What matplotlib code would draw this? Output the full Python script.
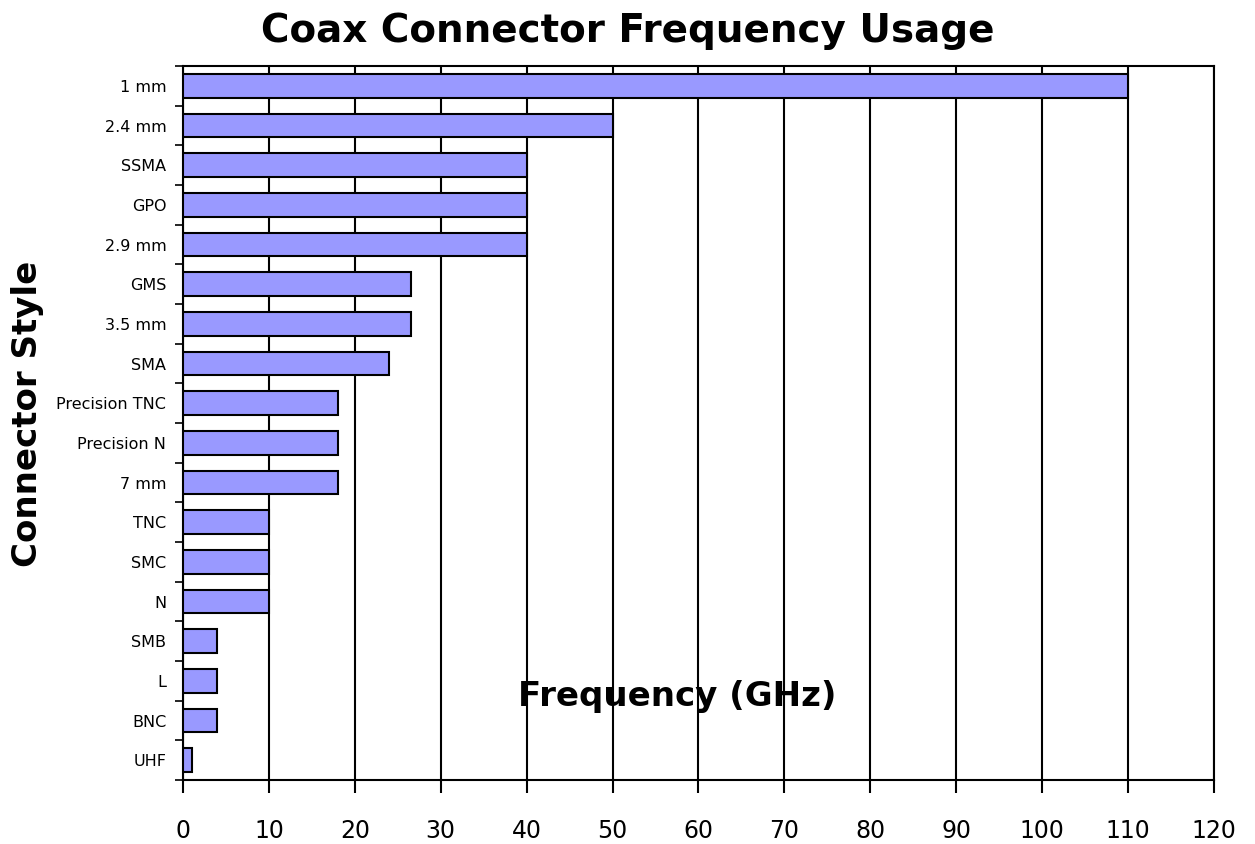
import numpy as np
import matplotlib
matplotlib.use('Agg')
import matplotlib.pyplot as plt

plt.rcParams['font.family'] = ['DejaVu Sans']

# Connector styles, top to bottom as shown
connectors = ["1 mm", "2.4 mm", "SSMA", "GPO", "2.9 mm", "GMS", "3.5 mm", "SMA",
              "Precision TNC", "Precision N", "7 mm", "TNC", "SMC", "N",
              "SMB", "L", "BNC", "UHF"]
max_freq_ghz = [110, 50, 40, 40, 40, 26.5, 26.5, 24,
                18, 18, 18, 10, 10, 10,
                4, 4, 4, 1]
x_ticks = [0, 10, 20, 30, 40, 50, 60, 70, 80, 90, 100, 110, 120]

fig = plt.figure(figsize=(12.55, 8.44), dpi=100)
ax = fig.add_axes([0.1458, 0.0758, 0.8215, 0.846])

n = len(connectors)
ypos = np.arange(n)[::-1]
ax.barh(ypos, max_freq_ghz, height=0.6, color='#9999FF', edgecolor='black',
        linewidth=1.5, zorder=3)

ax.set_xlim(0, 120)
ax.set_ylim(-0.5, n - 0.5)
ax.set_xticks(x_ticks)
ax.set_xticklabels([str(t) for t in x_ticks], fontsize=17)
ax.tick_params(axis='x', length=9, width=1.5, pad=19, direction='out')
ax.xaxis.grid(True, color='black', linewidth=1.5, zorder=1)

ax.set_yticks(ypos)
ax.set_yticklabels(connectors, fontsize=11.5)
ax.tick_params(axis='y', length=0, pad=12)
ax.set_yticks(np.arange(n + 1) - 0.5, minor=True)
ax.tick_params(axis='y', which='minor', length=6, width=1.2, direction='out')

for s in ax.spines.values():
    s.set_linewidth(1.5)

fig.text(0.5, 0.963, "Coax Connector Frequency Usage", ha='center', va='center',
         fontsize=28, fontweight='bold')
fig.text(0.022, 0.51, "Connector Style", rotation=90, ha='center', va='center',
         fontsize=24.5, fontweight='bold')
ax.text(57.5, 1.6, "Frequency (GHz)", ha='center', va='center',
        fontsize=24.5, fontweight='bold', zorder=5)

fig.savefig("out.png", dpi=100)
